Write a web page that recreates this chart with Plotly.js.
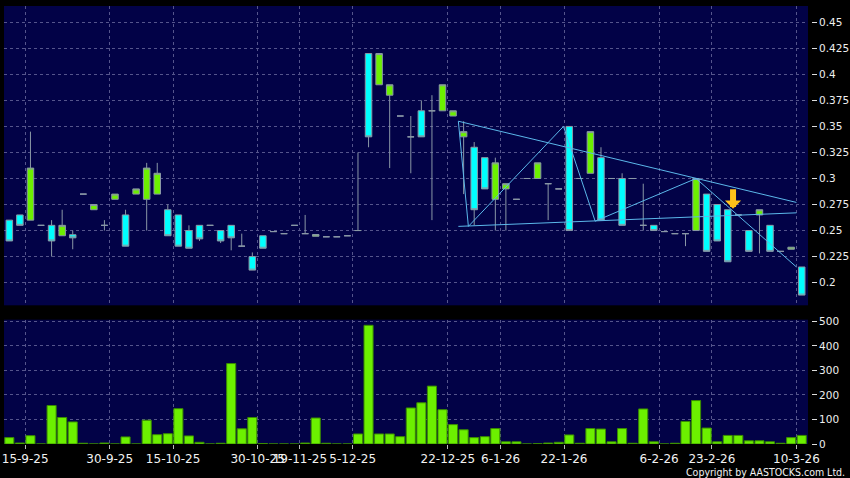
<!DOCTYPE html>
<html>
<head>
<meta charset="utf-8">
<script src="https://cdn.plot.ly/plotly-3.0.1.min.js"></script>
<style>
  html, body { margin: 0; padding: 0; background: #000; }
  #chart { width: 850px; height: 478px; }
</style>
</head>
<body>
<div id="chart"></div>
<script>
// Daily OHLC prices, one entry per trading session
const openP = [
  0.26, 0.265, 0.26, 0.255, 0.255, 0.245, 0.246, 0.285, 0.27, 0.255,
  0.28, 0.265, 0.285, 0.28, 0.285, 0.27, 0.265, 0.25, 0.255, 0.255,
  0.25, 0.255, 0.235, 0.225, 0.245, 0.249, 0.247, 0.255, 0.247, 0.2445,
  0.244, 0.244, 0.245, 0.25, 0.42, 0.39, 0.38, 0.36, 0.34, 0.365,
  0.365, 0.365, 0.36, 0.34, 0.33, 0.32, 0.28, 0.29, 0.28, 0.30,
  0.30, 0.295, 0.29, 0.35, 0.30, 0.305, 0.32, 0.30, 0.30, 0.30,
  0.255, 0.255, 0.249, 0.247, 0.247, 0.25, 0.285, 0.275, 0.27, 0.265,
  0.25, 0.265, 0.255, 0.23, 0.232, 0.215
];
const highP = [
  0.26, 0.265, 0.345, 0.255, 0.26, 0.27, 0.25, 0.285, 0.275, 0.26,
  0.285, 0.27, 0.29, 0.315, 0.315, 0.275, 0.265, 0.255, 0.255, 0.255,
  0.25, 0.255, 0.247, 0.229, 0.245, 0.249, 0.247, 0.255, 0.265, 0.2462,
  0.244, 0.244, 0.245, 0.325, 0.42, 0.42, 0.39, 0.36, 0.36, 0.375,
  0.38, 0.39, 0.365, 0.355, 0.335, 0.32, 0.32, 0.295, 0.28, 0.30,
  0.315, 0.295, 0.29, 0.35, 0.30, 0.345, 0.33, 0.30, 0.305, 0.30,
  0.295, 0.255, 0.249, 0.247, 0.247, 0.30, 0.285, 0.275, 0.27, 0.265,
  0.25, 0.27, 0.255, 0.23, 0.234, 0.215
];
const lowP = [
  0.24, 0.255, 0.26, 0.255, 0.225, 0.245, 0.232, 0.285, 0.27, 0.25,
  0.28, 0.235, 0.285, 0.25, 0.285, 0.245, 0.235, 0.233, 0.24, 0.255,
  0.238, 0.231, 0.235, 0.212, 0.233, 0.249, 0.247, 0.255, 0.247, 0.2445,
  0.244, 0.244, 0.245, 0.25, 0.33, 0.39, 0.31, 0.36, 0.305, 0.34,
  0.26, 0.365, 0.36, 0.285, 0.255, 0.29, 0.25, 0.25, 0.28, 0.30,
  0.30, 0.26, 0.29, 0.25, 0.30, 0.305, 0.26, 0.30, 0.255, 0.30,
  0.25, 0.25, 0.249, 0.247, 0.235, 0.25, 0.23, 0.24, 0.22, 0.265,
  0.23, 0.228, 0.23, 0.23, 0.232, 0.188
];
const closeP = [
  0.24, 0.255, 0.31, 0.255, 0.24, 0.255, 0.243, 0.285, 0.275, 0.255,
  0.285, 0.235, 0.29, 0.31, 0.305, 0.245, 0.235, 0.233, 0.242, 0.255,
  0.24, 0.243, 0.235, 0.212, 0.233, 0.249, 0.247, 0.255, 0.247, 0.2462,
  0.244, 0.244, 0.245, 0.25, 0.34, 0.42, 0.39, 0.36, 0.34, 0.34,
  0.365, 0.39, 0.365, 0.345, 0.27, 0.29, 0.315, 0.295, 0.28, 0.30,
  0.315, 0.295, 0.29, 0.25, 0.30, 0.345, 0.26, 0.30, 0.255, 0.30,
  0.255, 0.25, 0.249, 0.247, 0.247, 0.30, 0.23, 0.24, 0.22, 0.265,
  0.23, 0.27, 0.23, 0.23, 0.234, 0.188
];
// Turnover volume per session
const volume = [
  26, 4, 34, 0, 157, 108, 90, 3, 0, 4,
  0, 29, 0, 97, 38, 42, 144, 33, 7, 0,
  3, 328, 62, 108, 2, 0, 0, 0, 4, 106,
  3, 0, 0, 41, 484, 41, 41, 30, 147, 168,
  236, 140, 79, 58, 26, 30, 63, 9, 9, 0,
  1, 4, 7, 37, 3, 63, 61, 9, 63, 3,
  143, 9, 0, 3, 92, 177, 65, 9, 35, 35,
  13, 13, 9, 3, 26, 35
];
// Session number on the x axis
const session = openP.map((_, i) => i);

// Date labels and where they sit between sessions
const dateTickPos = [1.5, 9.5, 15.5, 23.5, 27.5, 32.5, 41.5, 46.5, 52.5, 61.5, 66.5, 74.5];
const dateTickText = ['15-9-25', '30-9-25', '15-10-25', '30-10-25', '19-11-25', '5-12-25',
                      '22-12-25', '6-1-26', '22-1-26', '6-2-26', '23-2-26', '10-3-26'];
const priceTicks = [0.2, 0.225, 0.25, 0.275, 0.3, 0.325, 0.35, 0.375, 0.4, 0.425, 0.45];
const priceTickText = ['0.2', '0.225', '0.25', '0.275', '0.3', '0.325', '0.35', '0.375', '0.4', '0.425', '0.45'];
const volumeTicks = [0, 100, 200, 300, 400, 500];

// Drawn trend lines (session, price)
const upperX = [42.5, 74.5];
const upperY = [0.355, 0.277];
const lowerX = [42.5, 74.5];
const lowerY = [0.254, 0.267];
const zigX = [42.5, 43.45, 52.45, 55.45, 65.0, 74.5];
const zigY = [0.355, 0.254, 0.35, 0.259, 0.30, 0.215];

// Sell signal: where the arrow tip points
const signalX = [68.5];
const signalY = [0.271];

const UP = '#6cf000';
const DOWN = '#00ffff';
const EDGE = '#8a98a6';
const TREND = '#5cb8ea';
const GRID = '#55558c';
const FONT = 'DejaVu Sans, Verdana, sans-serif';

const lineTrace = (xs, ys) => ({
  type: 'scatter', mode: 'lines', x: xs, y: ys,
  xaxis: 'x', yaxis: 'y',
  line: { color: TREND, width: 1 },
  hoverinfo: 'skip'
});

const traces = [
  {
    type: 'candlestick',
    x: session, open: openP, high: highP, low: lowP, close: closeP,
    xaxis: 'x', yaxis: 'y',
    increasing: { fillcolor: UP, line: { color: EDGE, width: 1 } },
    decreasing: { fillcolor: DOWN, line: { color: EDGE, width: 1 } },
    whiskerwidth: 0,
    hoverinfo: 'skip'
  },
  {
    type: 'bar',
    x: session, y: volume,
    xaxis: 'x2', yaxis: 'y2',
    width: 0.86,
    marker: { color: UP, line: { color: '#3a8c00', width: 1 } },
    hoverinfo: 'skip'
  },
  lineTrace(upperX, upperY),
  lineTrace(lowerX, lowerY),
  lineTrace(zigX, zigY)
];

const xDomain = [0, 0.9963];
const gridStyle = { showgrid: true, gridcolor: GRID, gridwidth: 1, griddash: '3px,3px', zeroline: false, showline: false };

const layout = {
  width: 850, height: 478,
  margin: { l: 4, r: 39, t: 6, b: 34, pad: 0 },
  paper_bgcolor: '#000000',
  plot_bgcolor: '#020247',
  showlegend: false,
  hovermode: false,
  boxgap: 0.12,
  xaxis: Object.assign({
    domain: xDomain, anchor: 'y', range: [-0.5045, 75.596],
    tickmode: 'array', tickvals: dateTickPos, ticktext: dateTickText,
    showticklabels: false, ticks: '',
    rangeslider: { visible: false }
  }, gridStyle),
  xaxis2: Object.assign({
    domain: xDomain, anchor: 'y2', matches: 'x', range: [-0.5045, 75.596],
    tickmode: 'array', tickvals: dateTickPos, ticktext: dateTickText,
    ticks: 'outside', ticklen: 4, tickcolor: '#bbbbbb', tickangle: 0,
    tickfont: { family: FONT, size: 12, color: '#f2f2f2' }
  }, gridStyle),
  yaxis: Object.assign({
    domain: [0.3166, 1], anchor: 'free', position: 1, side: 'right',
    range: [0.17817, 0.46567],
    tickmode: 'array', tickvals: priceTicks, ticktext: priceTickText,
    ticks: 'outside', ticklen: 5, tickcolor: '#dddddd',
    tickfont: { family: FONT, size: 10.5, color: '#eeeeee' }
  }, gridStyle),
  yaxis2: Object.assign({
    domain: [0, 0.2839], anchor: 'free', position: 1, side: 'right',
    range: [0, 507],
    tickmode: 'array', tickvals: volumeTicks,
    ticks: 'outside', ticklen: 5, tickcolor: '#dddddd',
    tickfont: { family: FONT, size: 10.5, color: '#eeeeee' }
  }, gridStyle),
  annotations: [
    {
      xref: 'x', yref: 'y', x: signalX[0], y: signalY[0],
      text: '', showarrow: true, ax: 0, ay: -21,
      arrowhead: 1, arrowwidth: 6, arrowsize: 0.45, arrowcolor: '#ffc21a'
    },
    {
      xref: 'paper', yref: 'paper', x: 1.0, y: -0.063, xanchor: 'right', yanchor: 'middle',
      xshift: 36,
      text: 'Copyright by AASTOCKS.com Ltd.', showarrow: false,
      font: { family: 'DejaVu Sans Condensed, DejaVu Sans, sans-serif', size: 10.5, color: '#f2f2f2' }
    }
  ]
};

Plotly.newPlot('chart', traces, layout, { staticPlot: true, displayModeBar: false });
</script>
</body>
</html>
